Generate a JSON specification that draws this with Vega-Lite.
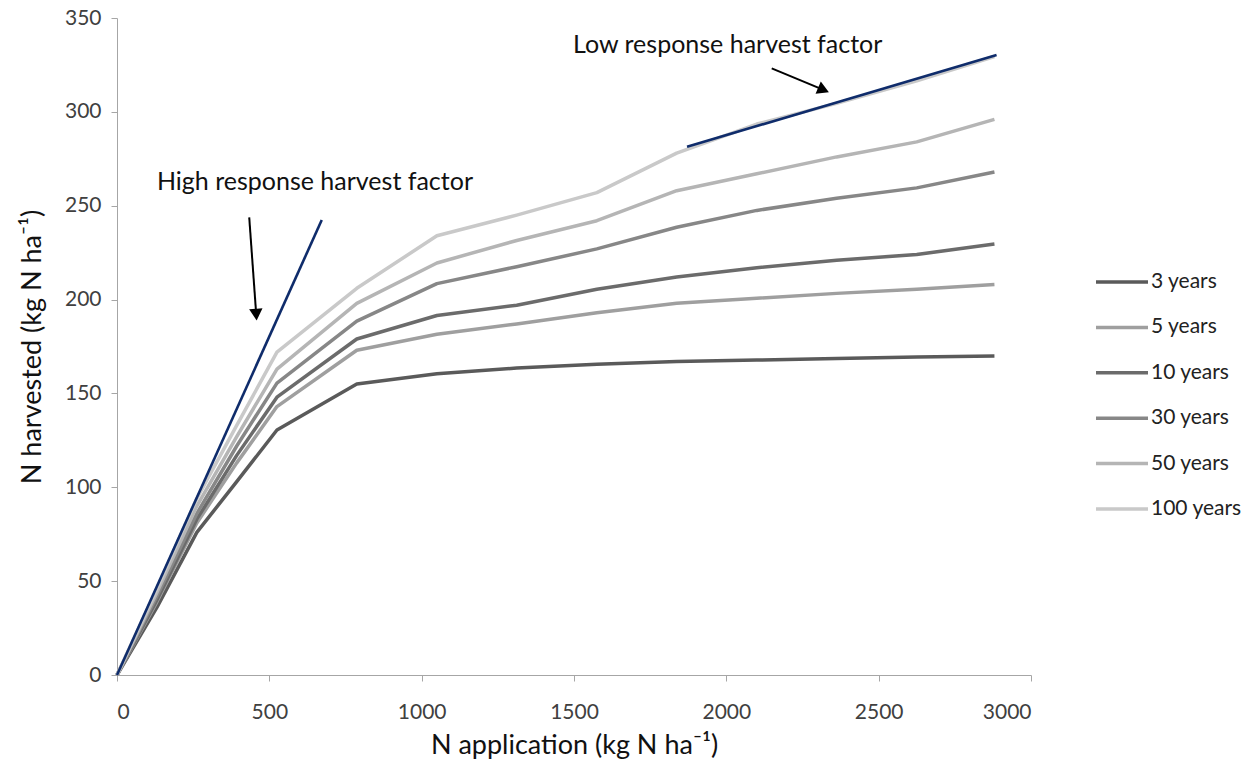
{
  "$schema": "https://vega.github.io/schema/vega-lite/v6.json",
  "width": 914,
  "height": 657,
  "autosize": "none",
  "padding": {"left": 117, "top": 18, "right": 220, "bottom": 91},
  "background": "white",
  "config": {
    "view": {"stroke": null},
    "font": "Lato",
    "axis": {"grid": false, "domainColor": "#a6a6a6", "tickColor": "#a6a6a6", "tickSize": 6, "labelColor": "#404040", "labelFont": "Lato", "labelFontSize": 21, "titleFont": "Lato", "titleFontSize": 27, "titleFontWeight": "normal", "titleColor": "#111111"}
  },
  "datasets": {
    "curves": [
      {"n": 0, "h": 0, "s": "3 years"}, {"n": 131, "h": 36, "s": "3 years"}, {"n": 262, "h": 76, "s": "3 years"}, {"n": 393, "h": 103, "s": "3 years"}, {"n": 525, "h": 130.5, "s": "3 years"}, {"n": 787, "h": 155, "s": "3 years"}, {"n": 1050, "h": 160.5, "s": "3 years"}, {"n": 1312, "h": 163.5, "s": "3 years"}, {"n": 1575, "h": 165.5, "s": "3 years"}, {"n": 1837, "h": 167, "s": "3 years"}, {"n": 2100, "h": 167.8, "s": "3 years"}, {"n": 2362, "h": 168.6, "s": "3 years"}, {"n": 2625, "h": 169.4, "s": "3 years"}, {"n": 2880, "h": 170, "s": "3 years"},
      {"n": 0, "h": 0, "s": "5 years"}, {"n": 131, "h": 39, "s": "5 years"}, {"n": 262, "h": 81, "s": "5 years"}, {"n": 393, "h": 113, "s": "5 years"}, {"n": 525, "h": 143, "s": "5 years"}, {"n": 787, "h": 173, "s": "5 years"}, {"n": 1050, "h": 181.5, "s": "5 years"}, {"n": 1312, "h": 187, "s": "5 years"}, {"n": 1575, "h": 193, "s": "5 years"}, {"n": 1837, "h": 198, "s": "5 years"}, {"n": 2100, "h": 200.7, "s": "5 years"}, {"n": 2362, "h": 203.3, "s": "5 years"}, {"n": 2625, "h": 205.5, "s": "5 years"}, {"n": 2880, "h": 208, "s": "5 years"},
      {"n": 0, "h": 0, "s": "10 years"}, {"n": 131, "h": 40, "s": "10 years"}, {"n": 262, "h": 83, "s": "10 years"}, {"n": 393, "h": 117, "s": "10 years"}, {"n": 525, "h": 148, "s": "10 years"}, {"n": 787, "h": 179, "s": "10 years"}, {"n": 1050, "h": 191.5, "s": "10 years"}, {"n": 1312, "h": 197, "s": "10 years"}, {"n": 1575, "h": 205.5, "s": "10 years"}, {"n": 1837, "h": 212, "s": "10 years"}, {"n": 2100, "h": 217, "s": "10 years"}, {"n": 2362, "h": 221, "s": "10 years"}, {"n": 2625, "h": 224, "s": "10 years"}, {"n": 2880, "h": 229.6, "s": "10 years"},
      {"n": 0, "h": 0, "s": "30 years"}, {"n": 131, "h": 42, "s": "30 years"}, {"n": 262, "h": 86, "s": "30 years"}, {"n": 393, "h": 122, "s": "30 years"}, {"n": 525, "h": 155.5, "s": "30 years"}, {"n": 787, "h": 188.5, "s": "30 years"}, {"n": 1050, "h": 208.5, "s": "30 years"}, {"n": 1312, "h": 217.5, "s": "30 years"}, {"n": 1575, "h": 227, "s": "30 years"}, {"n": 1837, "h": 238.5, "s": "30 years"}, {"n": 2100, "h": 247.5, "s": "30 years"}, {"n": 2362, "h": 254, "s": "30 years"}, {"n": 2625, "h": 259.5, "s": "30 years"}, {"n": 2880, "h": 268, "s": "30 years"},
      {"n": 0, "h": 0, "s": "50 years"}, {"n": 131, "h": 44, "s": "50 years"}, {"n": 262, "h": 90, "s": "50 years"}, {"n": 393, "h": 127, "s": "50 years"}, {"n": 525, "h": 163, "s": "50 years"}, {"n": 787, "h": 198, "s": "50 years"}, {"n": 1050, "h": 219.5, "s": "50 years"}, {"n": 1312, "h": 231.5, "s": "50 years"}, {"n": 1575, "h": 242, "s": "50 years"}, {"n": 1837, "h": 258, "s": "50 years"}, {"n": 2100, "h": 267, "s": "50 years"}, {"n": 2362, "h": 276, "s": "50 years"}, {"n": 2625, "h": 284, "s": "50 years"}, {"n": 2880, "h": 296, "s": "50 years"},
      {"n": 0, "h": 0, "s": "100 years"}, {"n": 131, "h": 46, "s": "100 years"}, {"n": 262, "h": 94, "s": "100 years"}, {"n": 393, "h": 133, "s": "100 years"}, {"n": 525, "h": 172, "s": "100 years"}, {"n": 787, "h": 206, "s": "100 years"}, {"n": 1050, "h": 234, "s": "100 years"}, {"n": 1312, "h": 245, "s": "100 years"}, {"n": 1575, "h": 257, "s": "100 years"}, {"n": 1837, "h": 278, "s": "100 years"}, {"n": 2100, "h": 293.5, "s": "100 years"}, {"n": 2362, "h": 304.5, "s": "100 years"}, {"n": 2625, "h": 316.5, "s": "100 years"}, {"n": 2880, "h": 329.5, "s": "100 years"}
    ],
    "response": [
      {"n": 0, "h": 0, "r": "high"}, {"n": 672, "h": 242.4, "r": "high"},
      {"n": 1871, "h": 281.4, "r": "low"}, {"n": 2887, "h": 330.3, "r": "low"}
    ],
    "notes": [
      {"n": 131, "h": 262.6, "label": "High response harvest factor"},
      {"n": 1497, "h": 335.6, "label": "Low response harvest factor"}
    ],
    "arrows": [
      {"a": "high", "n1": 434, "h1": 243.8, "n2": 457, "h2": 192},
      {"a": "low", "n1": 2149, "h1": 323.2, "n2": 2319, "h2": 311.7}
    ]
  },
  "layer": [
    {
      "data": {"name": "curves"},
      "mark": {"type": "line", "strokeWidth": 3.5, "strokeJoin": "round"},
      "encoding": {
        "x": {"field": "n", "type": "quantitative", "scale": {"domain": [0, 3000], "nice": false}, "axis": {"values": [0, 500, 1000, 1500, 2000, 2500, 3000], "format": "d", "title": "N application (kg N ha⁻¹)", "labelPadding": 20, "titleY": 70, "titleBaseline": "middle"}},
        "y": {"field": "h", "type": "quantitative", "scale": {"domain": [0, 350], "nice": false}, "axis": {"values": [0, 50, 100, 150, 200, 250, 300, 350], "title": "N harvested (kg N ha⁻¹)", "labelPadding": 10, "titleX": -85, "titleBaseline": "middle"}},
        "color": {"field": "s", "type": "nominal", "sort": ["3 years", "5 years", "10 years", "30 years", "50 years", "100 years"],
          "scale": {"domain": ["3 years", "5 years", "10 years", "30 years", "50 years", "100 years"], "range": ["#5a5a5a", "#9f9f9f", "#6b6b6b", "#878787", "#b5b5b5", "#c9c9c9"]},
          "legend": {"title": null, "orient": "none", "legendX": 977, "legendY": 236, "symbolType": "stroke", "symbolSize": 2704, "symbolStrokeWidth": 3.5, "labelFontSize": 21, "labelFont": "Lato", "labelColor": "#222222", "rowPadding": 7.4, "labelOffset": 1}
        }
      }
    },
    {
      "data": {"name": "response"},
      "mark": {"type": "line", "color": "#0f2c6b", "strokeWidth": 2.6},
      "encoding": {
        "x": {"field": "n", "type": "quantitative"},
        "y": {"field": "h", "type": "quantitative"},
        "detail": {"field": "r", "type": "nominal"}
      }
    },
    {
      "data": {"name": "notes"},
      "mark": {"type": "text", "align": "left", "baseline": "middle", "font": "Lato", "fontSize": 25, "color": "#111111"},
      "encoding": {
        "x": {"field": "n", "type": "quantitative"},
        "y": {"field": "h", "type": "quantitative"},
        "text": {"field": "label"}
      }
    },
    {
      "data": {"name": "arrows"},
      "mark": {"type": "rule", "color": "#000000", "strokeWidth": 2},
      "encoding": {
        "x": {"field": "n1", "type": "quantitative"},
        "y": {"field": "h1", "type": "quantitative"},
        "x2": {"field": "n2"},
        "y2": {"field": "h2"}
      }
    },
    {
      "data": {"name": "arrows"},
      "transform": [{"filter": "datum.a === 'high'"}],
      "mark": {"type": "point", "shape": "triangle-down", "filled": true, "color": "#000000", "opacity": 1, "size": 180, "angle": -4},
      "encoding": {
        "x": {"field": "n2", "type": "quantitative"},
        "y": {"field": "h2", "type": "quantitative"}
      }
    },
    {
      "data": {"name": "arrows"},
      "transform": [{"filter": "datum.a === 'low'"}],
      "mark": {"type": "point", "shape": "triangle-down", "filled": true, "color": "#000000", "opacity": 1, "size": 180, "angle": -67},
      "encoding": {
        "x": {"field": "n2", "type": "quantitative"},
        "y": {"field": "h2", "type": "quantitative"}
      }
    }
  ]
}
